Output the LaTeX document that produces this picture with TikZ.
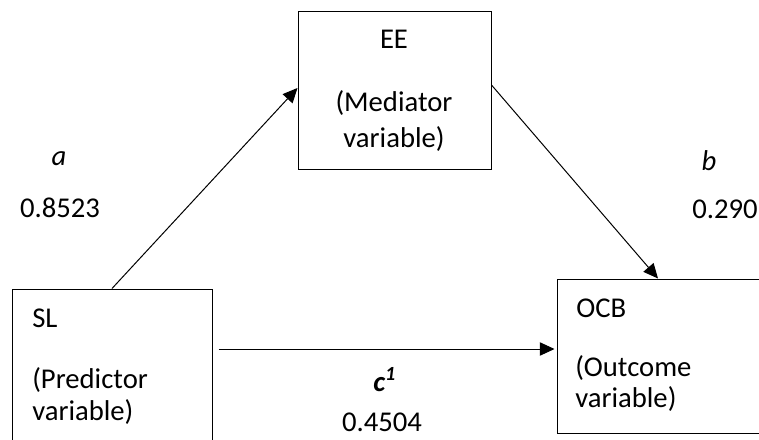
\documentclass[tikz,border=0pt]{standalone}
\usepackage{fontspec}
\setmainfont{Carlito}
\usetikzlibrary{arrows.meta, positioning}
\tikzstyle{box} = [rectangle, draw, line width=0.75pt, inner sep=0pt]
\tikzstyle{line} = [draw, line width=0.75pt, -{Triangle[length=11pt,width=10pt]}]
\tikzstyle{txt} = [inner sep=0pt, font=\fontsize{21.5}{23}\selectfont]
\begin{document}
\begin{tikzpicture}[x=0.75pt,y=-0.75pt]
    \path [use as bounding box, clip] (0,0) rectangle (759,439);
    % Place boxes
    \node [box, minimum width=144.75pt, minimum height=118.5pt] (ee) at (394.5,90) {};
    \node [box, minimum width=150pt, minimum height=124.5pt] (sl) at (112,372) {};
    \node [box, minimum width=163.5pt, minimum height=115.5pt] (ocb) at (666,356) {};
    % Box texts
    \node [txt, anchor=base] (eename) at (394,48) {EE};
    \node [txt, anchor=base] (eerole) at (394,111) {(Mediator};
    \node [txt, anchor=base] (eevar) at (394,147) {variable)};
    \node [txt, anchor=base west] (slname) at (32,327) {SL};
    \node [txt, anchor=base west] (slrole) at (32,388) {(Predictor};
    \node [txt, anchor=base west] (slvar) at (32,420) {variable)};
    \node [txt, anchor=base west] (ocbname) at (576,317) {OCB};
    \node [txt, anchor=base west] (ocbrole) at (575,376) {(Outcome};
    \node [txt, anchor=base west] (ocbvar) at (575,407) {variable)};
    % Path labels
    \node [txt, anchor=base] (alabel) at (59,165) {\textit{a}};
    \node [txt, anchor=base] (aval) at (60,217) {0.8523};
    \node [txt, anchor=base] (blabel) at (709,170) {\textit{b}};
    \node [txt, anchor=base west] (bval) at (692,218) {0.290};
    \node [txt, anchor=base west] (clabel) at (373,391) {\textbf{\textit{c\textsuperscript{1}}}};
    \node [txt, anchor=base] (cval) at (382,431) {0.4504};
    % Draw edges
    \path [line] (sl.north) -- ([yshift=1.5pt]ee.west);
    \path [line] ([yshift=3.75pt]ee.east) -- ([xshift=-6pt]ocb.north);
    \path [line] ([shift={(6,-23)}]sl.east) -- ([shift={(-2,-7)}]ocb.west);
\end{tikzpicture}
\end{document}
